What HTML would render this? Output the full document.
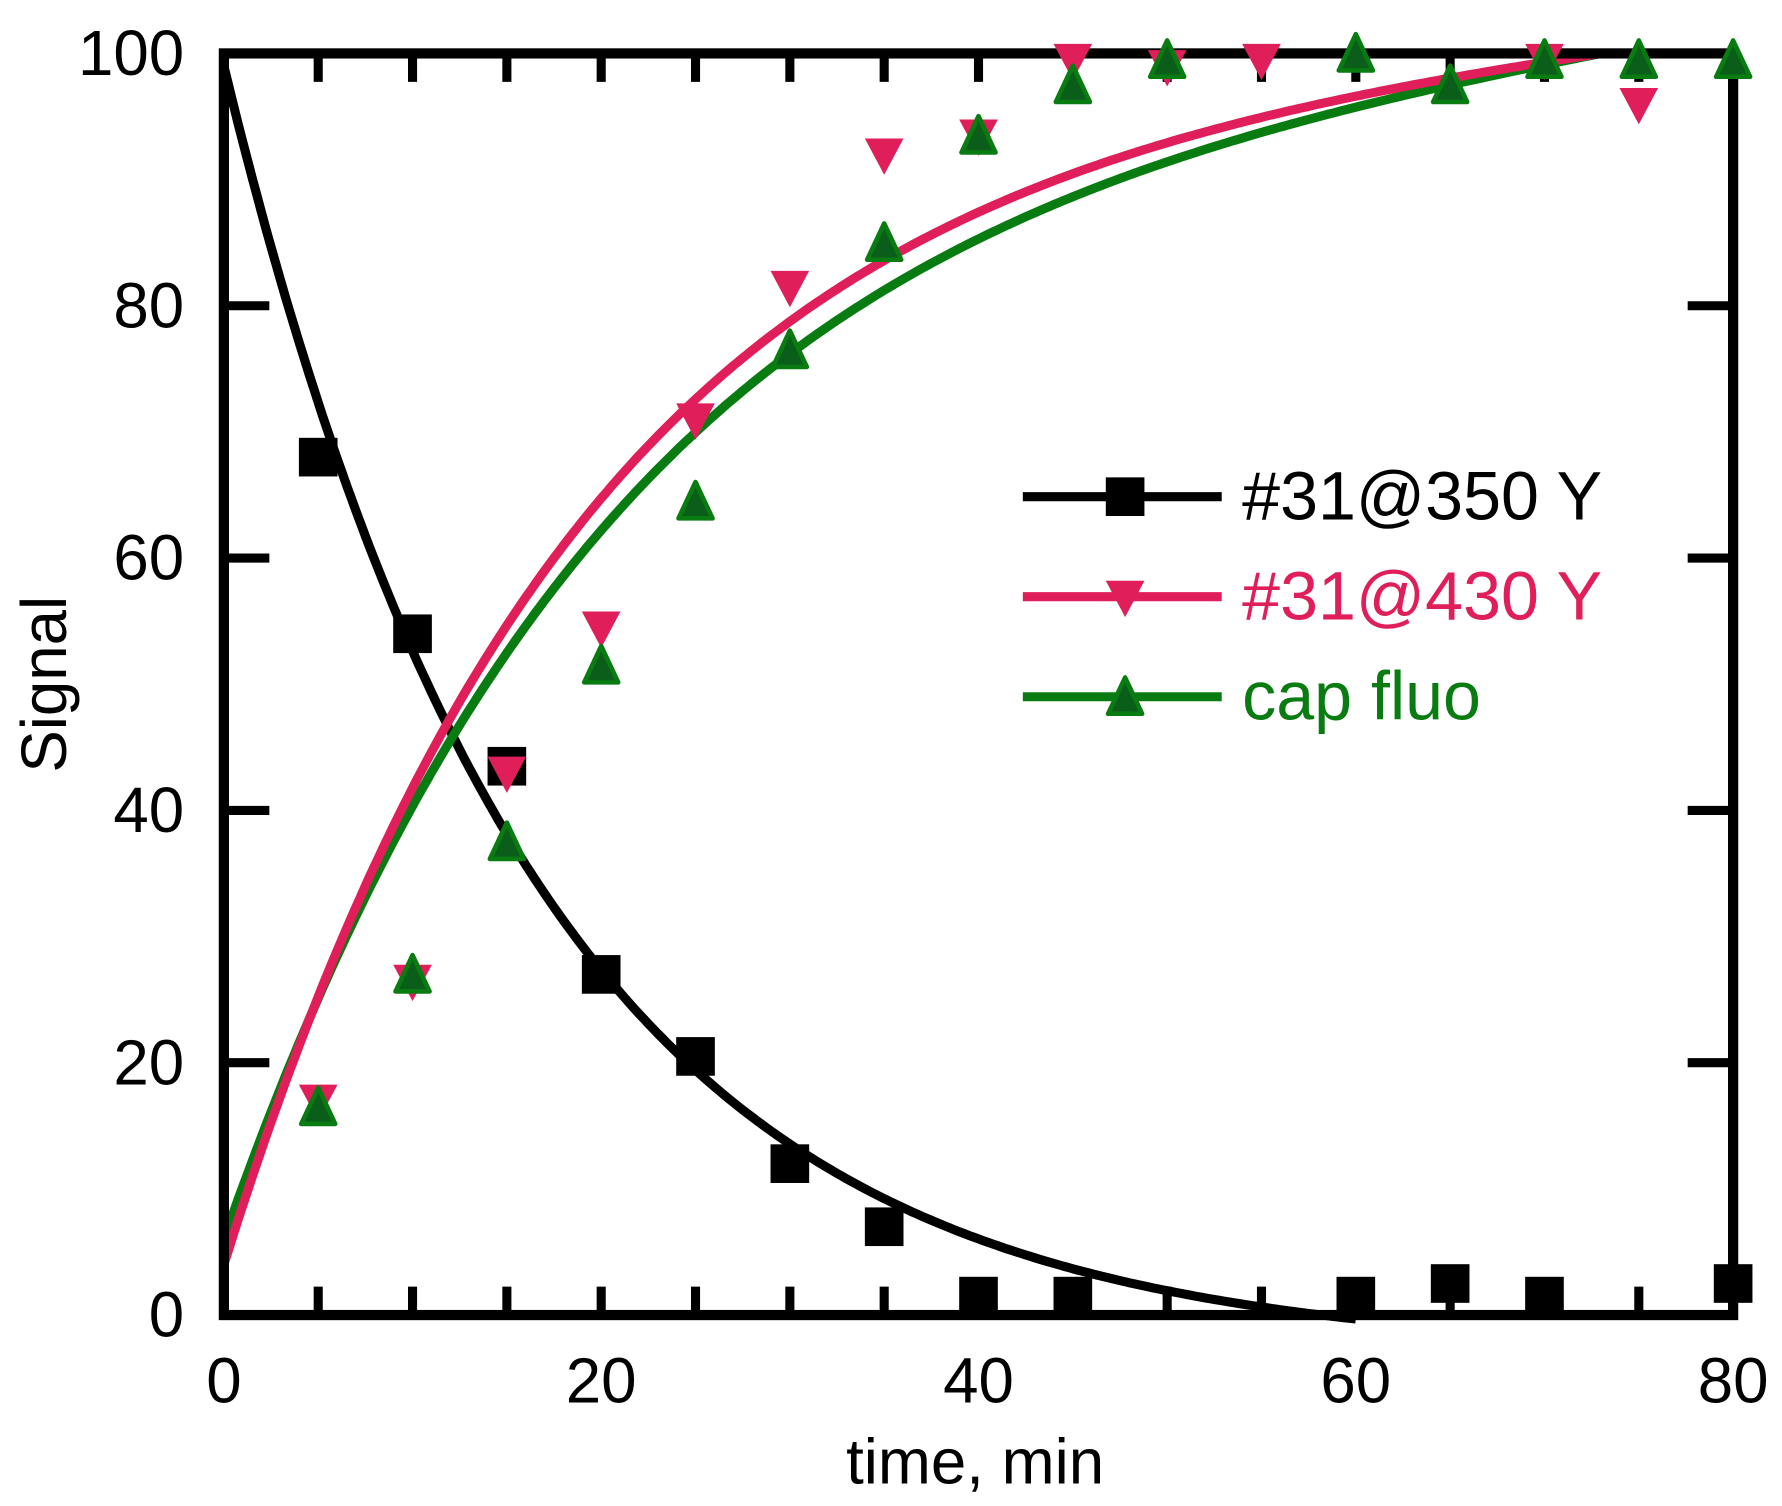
<!DOCTYPE html>
<html><head><meta charset="utf-8"><style>html,body{margin:0;padding:0;background:#fff}svg{display:block}</style></head>
<body>
<svg id="s" width="1782" height="1506" viewBox="0 0 1568 1325" preserveAspectRatio="none" xmlns="http://www.w3.org/2000/svg" font-family="Liberation Sans, sans-serif">
<g id="plot"></g>
<g font-size="56" fill="#000" text-anchor="middle">
<text x="197" y="1234">0</text><text x="529" y="1234">20</text><text x="861" y="1234">40</text><text x="1193" y="1234">60</text><text x="1525" y="1234">80</text>
</g>
<g font-size="56" fill="#000" text-anchor="end">
<text x="162" y="1176">0</text><text x="162" y="954">20</text><text x="162" y="732">40</text><text x="162" y="510">60</text><text x="162" y="288">80</text><text x="162" y="66">100</text>
</g>
<text x="858" y="1305" font-size="56" text-anchor="middle">time, min</text>
<text transform="translate(58,602) rotate(-90)" font-size="56" text-anchor="middle">Signal</text>
<g font-size="60">
<text x="1093" y="457" fill="#000">#31@350 Y</text>
<text x="1093" y="545" fill="#e01e5a">#31@430 Y</text>
<text x="1093" y="633" fill="#087c10">cap fluo</text>
</g>
</svg>
<script>
const NS="http://www.w3.org/2000/svg",g=document.getElementById("plot");
const X=t=>197+16.6*t,Y=v=>1157-11.1*v;
function el(n,a){const e=document.createElementNS(NS,n);for(const k in a)e.setAttribute(k,a[k]);g.appendChild(e);return e;}
function curve(f,t0,t1,c){let d="";for(let t=t0;t<=t1+1e-9;t+=0.25){let v=Math.min(100,f(t));d+=(d?"L":"M")+X(t).toFixed(1)+","+Y(v).toFixed(1);}el("path",{d:d,fill:"none",stroke:c,"stroke-width":8,"stroke-linejoin":"round"});}
curve(t=>102*Math.exp(-t/16.5)-3,0,60,"#000");
curve(t=>100-94*Math.exp(-t/22)+3.4*Math.pow(t/73,3),0,73,"#087c10");
curve(t=>100-96*Math.exp(-t/20)+2.5*Math.pow(t/73,3),0,73,"#e01e5a");
el("rect",{x:197,y:47,width:1328,height:1110,fill:"none",stroke:"#000","stroke-width":9});
for(let t=5;t<80;t+=5){el("line",{x1:X(t),y1:1157,x2:X(t),y2:1132,stroke:"#000","stroke-width":8});el("line",{x1:X(t),y1:47,x2:X(t),y2:72,stroke:"#000","stroke-width":8});}
for(let v=20;v<100;v+=20){el("line",{x1:197,y1:Y(v),x2:237,y2:Y(v),stroke:"#000","stroke-width":8});el("line",{x1:1525,y1:Y(v),x2:1485,y2:Y(v),stroke:"#000","stroke-width":8});}
const sq=[[5,68],[10,54],[15,43.5],[20,27],[25,20.5],[30,12],[35,7],[40,1.5],[45,1.5],[60,1.5],[65,2.5],[70,1.5],[80,2.5]];
const dn=[[5,17],[10,26.5],[15,43],[20,54.5],[25,71],[30,81.5],[35,92],[40,93.5],[45,99.5],[50,99],[55,99.5],[70,99.5],[75,96]];
const up=[[5,16.5],[10,27],[15,37.5],[20,51.5],[25,64.5],[30,76.5],[35,85],[40,93.5],[45,97.5],[50,99.5],[60,100],[65,97.5],[70,99.5],[75,99.5],[80,99.5]];
function S(x,y){el("rect",{x:x-17,y:y-17,width:34,height:34,fill:"#000"});}
function D(x,y){el("polygon",{points:`${x-17},${y-14} ${x+17},${y-14} ${x},${y+18}`,fill:"#e01e5a"});}
function U(x,y){el("polygon",{points:`${x-15},${y+15} ${x+15},${y+15} ${x},${y-17}`,fill:"#0a5e1a",stroke:"#087c10","stroke-width":4,"stroke-linejoin":"round"});}
sq.forEach(p=>S(X(p[0]),Y(p[1])));dn.forEach(p=>D(X(p[0]),Y(p[1])));up.forEach(p=>U(X(p[0]),Y(p[1])));
[[437,"#000",S],[525,"#e01e5a",D],[613,"#087c10",U]].forEach(r=>{el("line",{x1:900,y1:r[0],x2:1075,y2:r[0],stroke:r[1],"stroke-width":8});r[2](990,r[0]);});
</script>
</body></html>
